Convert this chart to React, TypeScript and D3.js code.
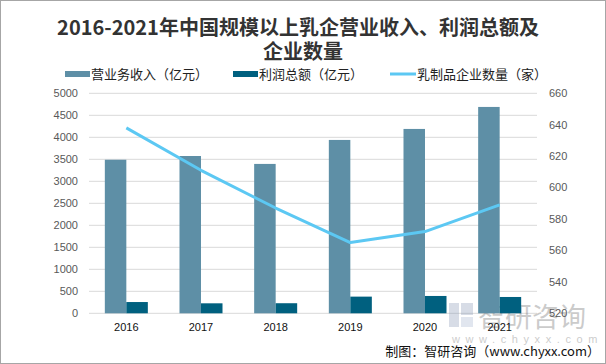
import React from 'react';
import * as d3 from 'd3';

const years = ['2016', '2017', '2018', '2019', '2020', '2021'];
const revenue = [3490, 3575, 3395, 3940, 4190, 4690];
const profit = [256, 227, 229, 379, 394, 371];
const companies = [638, 611, 587, 565, 572, 589];
const leftTicks = [0, 500, 1000, 1500, 2000, 2500, 3000, 3500, 4000, 4500, 5000];
const rightTicks = [520, 540, 560, 580, 600, 620, 640, 660];

const W = 606;
const H = 364;
const plot = { left: 89, right: 537, top: 93.3, bottom: 313.3 };
const REV = '#5e8fa6';
const PROFIT = '#00607f';
const LINE = '#5cc8f3';
const FONT = '"Noto Sans CJK SC", "Noto Sans", sans-serif';
const NUM_FONT = '"Liberation Sans", Arial, sans-serif';

const App: React.FC = () => {
    const x0 = d3.scaleBand<string>().domain(years).range([plot.left, plot.right]).padding(0);
    const bw = x0.bandwidth();
    const x1 = d3.scaleBand<string>().domain(['rev', 'profit']).range([bw * 0.212, bw * 0.788]).padding(0);
    const yL = d3.scaleLinear().domain([0, 5000]).range([plot.bottom, plot.top]);
    const yR = d3.scaleLinear().domain([520, 660]).range([plot.bottom, plot.top]);

    const line = d3.line<number>()
        .x((_, i) => (x0(years[i]) || 0) + bw / 2)
        .y(d => yR(d));

    return (
        <svg width={W} height={H} style={{ position: 'absolute', left: 0, top: 0, background: '#fff' }}>
            <rect x={0.5} y={0.5} width={W - 1} height={H - 1} fill="#fff" stroke="#a6a6a6" />

            {/* Title */}
            <text x={W / 2 - 5} y={35} textAnchor="middle" fontFamily={FONT} fontWeight="bold" fontSize={20} fill="#333">
                2016-2021年中国规模以上乳企营业收入、利润总额及
            </text>
            <text x={W / 2} y={59} textAnchor="middle" fontFamily={FONT} fontWeight="bold" fontSize={20} fill="#333">
                企业数量
            </text>

            {/* Legend */}
            <g fontFamily={FONT} fontSize={13} fill="#222">
                <rect x={65} y={71} width={25} height={6} fill={REV} />
                <text x={91} y={79}>营业务收入（亿元）</text>
                <rect x={233} y={71} width={25} height={6} fill={PROFIT} />
                <text x={259} y={79}>利润总额（亿元）</text>
                <rect x={390} y={72.5} width={26} height={3} fill={LINE} />
                <text x={417} y={79}>乳制品企业数量（家）</text>
            </g>

            {/* Grid and left axis */}
            {leftTicks.map(t => (
                <g key={t}>
                    <line x1={plot.left} x2={plot.right} y1={yL(t)} y2={yL(t)} stroke="#d9d9d9" strokeWidth={1} />
                    <text x={78} y={yL(t)} dy="0.35em" textAnchor="end" fontFamily={NUM_FONT} fontSize={11} fill="#595959">{t}</text>
                </g>
            ))}
            {rightTicks.map(t => (
                <text key={t} x={549} y={yR(t)} dy="0.35em" fontFamily={NUM_FONT} fontSize={11} fill="#595959">{t}</text>
            ))}

            {/* Watermark */}
            <g opacity={0.3}>
                <rect x={449} y={303} width={10} height={24} fill="#7d8fb0" />
                <rect x={461} y={303} width={12} height={12} fill="#7d8fb0" />
                <rect x={461} y={317} width={12} height={10} fill="#9fb0cc" />
                <text x={478} y={327} fontFamily={FONT} fontSize={27} fill="#555">智研咨询</text>
                <text x={452} y={343} fontFamily={NUM_FONT} fontSize={11} letterSpacing={5.6} fill="#555">www.chyxx.com</text>
            </g>

            {/* Bars */}
            {years.map((yr, i) => (
                <g key={yr} transform={`translate(${x0(yr)},0)`}>
                    <rect x={x1('rev')} y={yL(revenue[i])} width={x1.bandwidth()} height={plot.bottom - yL(revenue[i])} fill={REV} />
                    <rect x={x1('profit')} y={yL(profit[i])} width={x1.bandwidth()} height={plot.bottom - yL(profit[i])} fill={PROFIT} />
                    <text x={bw / 2} y={331} textAnchor="middle" fontFamily={NUM_FONT} fontSize={11} fill="#111">{yr}</text>
                </g>
            ))}

            {/* Line */}
            <path d={line(companies) || ''} fill="none" stroke={LINE} strokeWidth={3} strokeLinejoin="round" />

            {/* Source */}
            <text x={600} y={356} textAnchor="end" fontFamily={FONT} fontSize={13} fill="#111">制图：智研咨询（www.chyxx.com）</text>
        </svg>
    );
};

export default App;
